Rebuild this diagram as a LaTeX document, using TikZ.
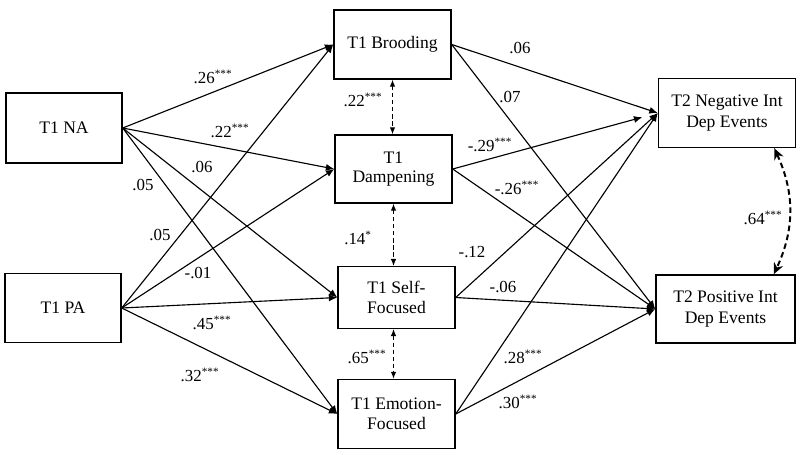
\documentclass[tikz,border=0pt]{standalone}
\usepackage{fontspec}
\setmainfont{Liberation Serif}
\usetikzlibrary{arrows.meta, positioning, calc}

\begin{document}
\begin{tikzpicture}[
  x=0.025cm, y=-0.025cm,
  varbox/.style={draw, line width=1pt, align=center, inner sep=0pt, font=\fontsize{12.5}{14}\selectfont},
  path/.style={-{Latex[length=6pt, width=5pt]}, line width=0.8pt},
  corr/.style={{Latex[length=5pt, width=4pt]}-{Latex[length=5pt, width=4pt]}, line width=0.8pt, dash pattern=on 3pt off 2pt},
  corrbig/.style={{Stealth[length=8pt, width=7pt]}-{Stealth[length=8pt, width=7pt]}, line width=1.4pt, dash pattern=on 4pt off 2.5pt},
  wt/.style={font=\fontsize{12}{14}\selectfont, inner sep=1pt}
]
\useasboundingbox (0,0) rectangle (800,454);

% predictors
\node[varbox, minimum width=2.9cm, minimum height=1.75cm] (na) at (64,128) {T1 NA};
\node[varbox, minimum width=2.9cm, minimum height=1.725cm] (pa) at (63,308) {T1 PA};

% mediators
\node[varbox, minimum width=2.925cm, minimum height=1.725cm] (brood) at (392.5,44.5) {T1 Brooding};
\node[varbox, minimum width=2.925cm, minimum height=1.7cm] (damp) at (393.5,169) {T1\\Dampening};
\node[varbox, minimum width=2.925cm, minimum height=1.54cm] (self) at (396.5,297.5) {T1 Self-\\Focused};
\node[varbox, minimum width=2.925cm, minimum height=1.725cm] (emo) at (396.5,414) {T1 Emotion-\\Focused};

% outcomes
\node[varbox, minimum width=3.425cm, minimum height=1.725cm, font=\fontsize{12.5}{15.5}\selectfont] (neg) at (727,113) {T2 Negative Int\\Dep Events};
\node[varbox, minimum width=3.475cm, minimum height=1.7cm, font=\fontsize{12.5}{15.5}\selectfont] (pos) at (725.5,309) {T2 Positive Int\\Dep Events};

% a paths
\draw[path] (na.east) -- (brood.west);
\draw[path] (na.east) -- (damp.west);
\draw[path] (na.east) -- (self.west);
\draw[path] (na.east) -- (emo.west);
\draw[path] (pa.east) -- (brood.west);
\draw[path] (pa.east) -- (damp.west);
\draw[path] (pa.east) -- (self.west);
\draw[path] (pa.east) -- (emo.west);

% b paths
\draw[path] (brood.east) -- (neg.west);
\draw[path] (brood.east) -- (pos.west);
\draw[path, shorten >=0.4cm] (damp.east) -- (neg.west);
\draw[path] (damp.east) -- (pos.west);
\draw[path] (self.east) -- (neg.west);
\draw[path] (self.east) -- (pos.west);
\draw[path] (emo.east) -- (neg.west);
\draw[path] (emo.east) -- (pos.west);

% covariances
\draw[corr] (brood.south) -- (brood.south |- damp.north);
\draw[corr] (damp.south) -- (damp.south |- self.north);
\draw[corr] ([xshift=-0.075cm]self.south) -- ([xshift=-0.075cm]self.south |- emo.north);
\draw[corrbig] ([xshift=-0.55cm]neg.south east) to[bend left=25] ([xshift=-0.55cm]pos.north east);

% weights
\node[wt] (w-na-br) at (213,77) {.26\textsuperscript{***}};
\node[wt] (w-na-da) at (230,131) {.22\textsuperscript{***}};
\node[wt] (w-na-sf) at (202,167) {.06};
\node[wt] (w-na-ef) at (143,185) {.05};
\node[wt] (w-pa-br) at (160,235) {.05};
\node[wt] (w-pa-da) at (198,273) {-.01};
\node[wt] (w-pa-sf) at (212,323) {.45\textsuperscript{***}};
\node[wt] (w-pa-ef) at (200,375) {.32\textsuperscript{***}};
\node[wt] (w-br-ng) at (520,48) {.06};
\node[wt] (w-br-ps) at (510,97) {.07};
\node[wt] (w-da-ng) at (490,145) {-.29\textsuperscript{***}};
\node[wt] (w-da-ps) at (517,188) {-.26\textsuperscript{***}};
\node[wt] (w-sf-ng) at (472,252) {-.12};
\node[wt] (w-sf-ps) at (503,287) {-.06};
\node[wt] (w-ef-ng) at (523,357) {.28\textsuperscript{***}};
\node[wt] (w-ef-ps) at (518,402) {.30\textsuperscript{***}};
\node[wt] (c-br-da) at (363,100) {.22\textsuperscript{***}};
\node[wt] (c-da-sf) at (358,238) {.14\textsuperscript{*}};
\node[wt] (c-sf-ef) at (367,357) {.65\textsuperscript{***}};
\node[wt] (c-ng-ps) at (763,218) {.64\textsuperscript{***}};
\end{tikzpicture}
\end{document}
